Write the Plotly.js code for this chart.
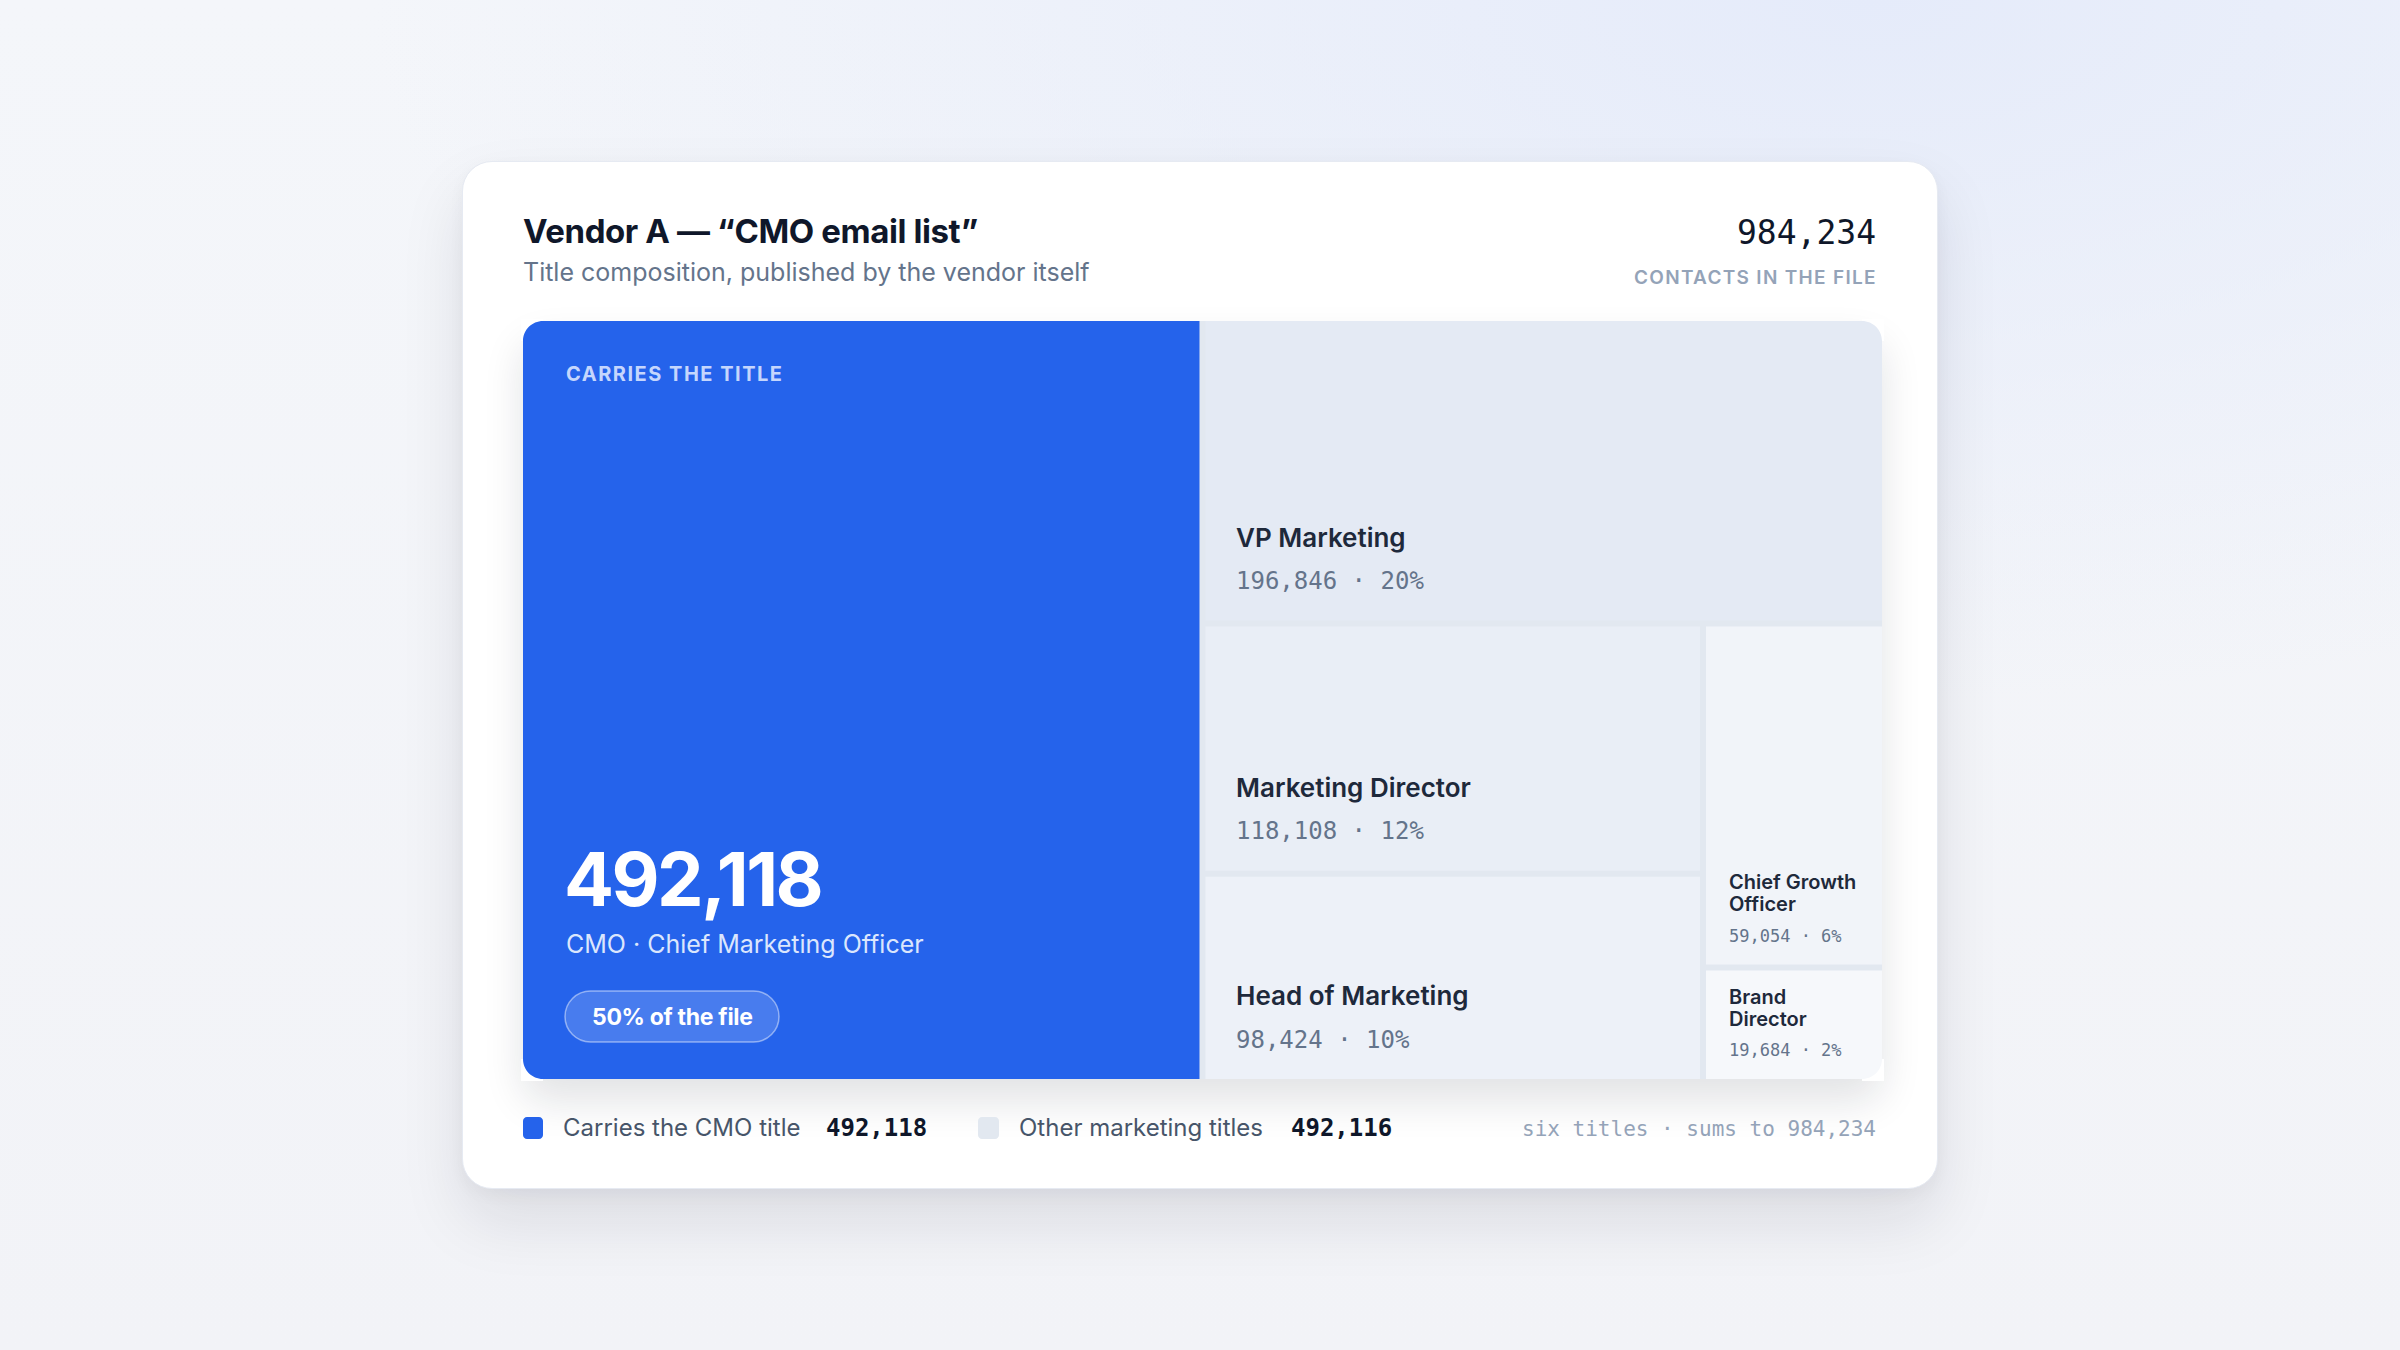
<!DOCTYPE html>
<html>
<head>
<meta charset="utf-8">
<script src="https://cdn.plot.ly/plotly-3.0.1.min.js"></script>
<style>
  html, body { margin:0; padding:0; width:2400px; height:1350px; overflow:hidden; }
  body {
    background:
      radial-gradient(ellipse 1500px 700px at 78% 0%, rgba(229,235,250,1) 0%, rgba(229,235,250,0) 100%),
      linear-gradient(180deg, #f4f6fa 0%, #f2f3f7 100%);
  }
  #card {
    position:absolute; left:462px; top:161px; width:1476px; height:1028px;
    box-sizing:border-box; border-radius:30px; background:#ffffff;
    border:1px solid #e6eaf2;
    box-shadow: 0 32px 64px rgba(15,23,42,0.10), 0 6px 16px rgba(15,23,42,0.04);
  }
  #tmshadow {
    position:absolute; left:523px; top:321px; width:1359px; height:758px;
    border-radius:20px; background:#e2e8f0;
    box-shadow: 0 22px 40px rgba(15,23,42,0.12);
  }
  #chart { position:absolute; left:0; top:0; width:2400px; height:1350px; }
</style>
</head>
<body>
<div id="card"></div>
<div id="tmshadow"></div>
<div id="chart"></div>
<script>
// ---------------- data ----------------
const nodeLabels = [
  "Contacts in the file",
  "CMO · Chief Marketing Officer",
  "Other marketing titles",
  "VP Marketing",
  "Titles below VP",
  "Director & head titles",
  "Marketing Director",
  "Head of Marketing",
  "Growth & brand titles",
  "Chief Growth Officer",
  "Brand Director"
];
const nodeParents = [
  "",
  "Contacts in the file",
  "Contacts in the file",
  "Other marketing titles",
  "Other marketing titles",
  "Titles below VP",
  "Director & head titles",
  "Director & head titles",
  "Titles below VP",
  "Growth & brand titles",
  "Growth & brand titles"
];
const nodeContacts = [0, 492118, 0, 196846, 0, 0, 118108, 98424, 0, 59054, 19684];

const cmoLabel = "CMO · Chief Marketing Officer";
const legendLabels = ["Carries the CMO title", "Other marketing titles"];
const titleText = "Vendor A — “CMO email list”";
const subtitleText = "Title composition, published by the vendor itself";
const totalCaption = "CONTACTS IN THE FILE";
const cmoKicker = "CARRIES THE TITLE";

// ---------------- styles ----------------
const tileColors = ["#e2e8f0", "#2563eb", "#e2e8f0", "#e4eaf4", "#e2e8f0", "#e2e8f0",
                    "#e9eef6", "#edf1f8", "#e2e8f0", "#f1f4f9", "#f6f8fb"];
const W = 2400, H = 1350;
const TM = { l: 523, t: 321, r: 1882, b: 1079 };
const SANS = 'Inter, "Noto Sans", sans-serif';
const MONO = '"DejaVu Sans Mono", "Liberation Mono", monospace';

// ---------------- helpers ----------------
const fmt = v => v.toLocaleString('en-US');
const total = nodeContacts.reduce((a, b) => a + b, 0);
const pct = v => Math.round(v / total * 100) + '%';
const cmoIdx = nodeLabels.indexOf(cmoLabel);
const leafIdx = nodeContacts.map((v, i) => v > 0 ? i : -1).filter(i => i >= 0);
const words = ['zero','one','two','three','four','five','six','seven','eight','nine','ten'];

const P = (x, y) => (x / W).toFixed(6) + ',' + (1 - y / H).toFixed(6);
function rr(x0, y0, x1, y1, r) {
  const k = 0.5523 * r;
  return 'M' + P(x0 + r, y0) + ' L' + P(x1 - r, y0) +
    ' C' + P(x1 - r + k, y0) + ' ' + P(x1, y0 + r - k) + ' ' + P(x1, y0 + r) +
    ' L' + P(x1, y1 - r) +
    ' C' + P(x1, y1 - r + k) + ' ' + P(x1 - r + k, y1) + ' ' + P(x1 - r, y1) +
    ' L' + P(x0 + r, y1) +
    ' C' + P(x0 + r - k, y1) + ' ' + P(x0, y1 - r + k) + ' ' + P(x0, y1 - r) +
    ' L' + P(x0, y0 + r) +
    ' C' + P(x0, y0 + r - k) + ' ' + P(x0 + r - k, y0) + ' ' + P(x0 + r, y0) + ' Z';
}
function cornerMask(cx, cy, dx, dy, r) {
  const k = 0.5523 * r, e = 2;
  return 'M' + P(cx - dx * e, cy - dy * e) + ' L' + P(cx + dx * r, cy - dy * e) +
    ' L' + P(cx + dx * r, cy) +
    ' C' + P(cx + dx * (r - k), cy) + ' ' + P(cx, cy + dy * (r - k)) + ' ' + P(cx, cy + dy * r) +
    ' L' + P(cx - dx * e, cy + dy * r) + ' Z';
}
const span = (t, ls) => '<span style="letter-spacing:' + ls + '">' + t + '</span>';
function A(text, x, base, size, o) {
  o = o || {};
  const mono = !!o.mono;
  const k = mono ? 0.346 : 0.364;
  const yc = o.center ? base : base - k * size;
  return {
    xref: 'paper', yref: 'paper', x: x / W, y: 1 - yc / H,
    xanchor: o.anchor || 'left', yanchor: 'middle', align: o.anchor || 'left',
    showarrow: false, borderpad: 0, text: text,
    font: { family: mono ? MONO : SANS, size: size, color: o.color || '#0f172a', weight: o.weight || 400 }
  };
}
function wrap(label, maxChars) {
  const ws = label.split(' '); const lines = []; let cur = '';
  ws.forEach(w => { const t = cur ? cur + ' ' + w : w;
    if (t.length > maxChars && cur) { lines.push(cur); cur = w; } else cur = t; });
  if (cur) lines.push(cur);
  return lines;
}
const shapeP = (path, fill, line) => ({ type: 'path', path: path, xref: 'paper', yref: 'paper',
  fillcolor: fill, line: line || { width: 0 }, layer: 'above' });

// ---------------- static annotations / shapes ----------------
const cmoValue = nodeContacts[cmoIdx];
const otherValue = total - cmoValue;
const staticAnns = [
  A(span(titleText, '-0.4px'), 522, 243, 33, { weight: 700, color: '#0f172a' }),
  A(subtitleText, 522, 281, 25, { color: '#64748b' }),
  A(fmt(total), 1877, 244, 33, { mono: true, anchor: 'right', color: '#0f172a' }),
  A(span(totalCaption, '1.3px'), 1878, 284, 19, { anchor: 'right', weight: 600, color: '#94a3b8' }),
  A(legendLabels[0], 562, 1136, 24, { color: '#475569' }),
  A('<b>' + fmt(cmoValue) + '</b>', 825, 1136, 24, { mono: true, color: '#0f172a' }),
  A(legendLabels[1], 1018, 1136, 24, { color: '#475569' }),
  A('<b>' + fmt(otherValue) + '</b>', 1290, 1136, 24, { mono: true, color: '#0f172a' }),
  A(words[leafIdx.length] + ' titles · sums to ' + fmt(total), 1877, 1136, 21, { mono: true, anchor: 'right', color: '#94a3b8' })
];
const staticShapes = [
  shapeP(rr(523, 1117, 543, 1139, 4), tileColors[cmoIdx]),
  shapeP(rr(978, 1117, 999, 1139, 4), '#e2e8f0'),
  shapeP(cornerMask(TM.l, TM.t, 1, 1, 20), '#ffffff'),
  shapeP(cornerMask(TM.r, TM.t, -1, 1, 20), '#ffffff'),
  shapeP(cornerMask(TM.r, TM.b, -1, -1, 20), '#ffffff'),
  shapeP(cornerMask(TM.l, TM.b, 1, -1, 20), '#ffffff')
];

// ---------------- treemap ----------------
const trace = {
  type: 'treemap',
  ids: nodeLabels, labels: nodeLabels, parents: nodeParents, values: nodeContacts,
  branchvalues: 'remainder', sort: false,
  textinfo: 'none', hoverinfo: 'skip',
  marker: { colors: tileColors, line: { width: 0 }, pad: { t: 0, l: 0, r: 0, b: 0 }, depthfade: false },
  leaf: { opacity: 1 },
  tiling: { packing: 'slice-dice', pad: 6 },
  pathbar: { visible: false },
  root: { color: '#e2e8f0' },
  domain: { x: [TM.l / W, TM.r / W], y: [1 - TM.b / H, 1 - TM.t / H] }
};
const layout = {
  width: W, height: H, margin: { l: 0, r: 0, t: 0, b: 0 },
  paper_bgcolor: 'rgba(0,0,0,0)', plot_bgcolor: 'rgba(0,0,0,0)',
  showlegend: false, annotations: staticAnns, shapes: staticShapes
};

const gd = document.getElementById('chart');
Plotly.newPlot(gd, [trace], layout, { staticPlot: true, displayModeBar: false }).then(() => {
  const off = gd.getBoundingClientRect();
  const rects = {};
  gd.querySelectorAll('g.slice').forEach(g => {
    const d = g.__data__; let id = null;
    try { id = d.data.data.id; } catch (e) {}
    const p = g.querySelector('path.surface');
    if (id != null && p) {
      const r = p.getBoundingClientRect();
      rects[id] = { l: r.left - off.left, t: r.top - off.top, r: r.right - off.left, b: r.bottom - off.top };
    }
  });
  const anns = [], shapes = [];
  const c = rects[cmoLabel];
  if (c) {
    const L = c.l + 42;
    anns.push(A(span(cmoKicker, '1.5px'), L, c.t + 60, 20, { weight: 700, color: '#c5d6fd' }));
    anns.push(A(span(fmt(cmoValue), '-2.5px'), L - 2, c.b - 173, 74, { weight: 700, color: '#ffffff' }));
    anns.push(A(cmoLabel, L, c.b - 126, 25, { color: '#dbe6fd' }));
    const px0 = L, px1 = L + 214, py0 = c.b - 88, py1 = c.b - 37;
    shapes.push(shapeP(rr(px0, py0, px1, py1, (py1 - py0) / 2), 'rgba(255,255,255,0.16)',
      { color: 'rgba(255,255,255,0.45)', width: 1.5 }));
    anns.push(A(span(pct(cmoValue) + ' of the file', '-0.3px'), (px0 + px1) / 2, (py0 + py1) / 2, 23,
      { anchor: 'center', center: true, weight: 700, color: '#ffffff' }));
  }
  leafIdx.forEach(i => {
    if (i === cmoIdx) return;
    const r = rects[nodeLabels[i]]; if (!r) return;
    const v = nodeContacts[i];
    const valueText = fmt(v) + ' · ' + pct(v);
    if (r.r - r.l >= 300) {
      anns.push(A(nodeLabels[i], r.l + 29, r.b - 74, 26, { weight: 600, color: '#1e293b' }));
      anns.push(A(valueText, r.l + 29, r.b - 31, 24, { mono: true, color: '#64748b' }));
    } else {
      const lines = wrap(nodeLabels[i], 12);
      lines.forEach((ln, j) => {
        anns.push(A(ln, r.l + 22, r.b - 53 - (lines.length - 1 - j) * 22, 20, { weight: 600, color: '#1e293b' }));
      });
      anns.push(A(valueText, r.l + 22, r.b - 23, 17, { mono: true, color: '#64748b' }));
    }
  });
  return Plotly.relayout(gd, { annotations: staticAnns.concat(anns), shapes: staticShapes.concat(shapes) });
});
</script>
</body>
</html>
